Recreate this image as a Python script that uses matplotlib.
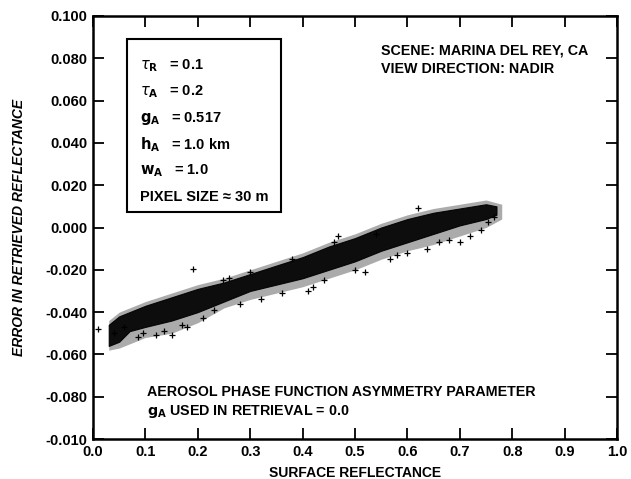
import matplotlib
matplotlib.use("Agg")
import matplotlib.pyplot as plt

plt.rcParams['font.family'] = ['Liberation Sans', 'DejaVu Sans']
plt.rcParams['mathtext.fontset'] = 'dejavusans'

# ---- data ----
xticks = [0.0, 0.1, 0.2, 0.3, 0.4, 0.5, 0.6, 0.7, 0.8, 0.9, 1.0]
xtick_labels = ["0.0", "0.1", "0.2", "0.3", "0.4", "0.5", "0.6", "0.7", "0.8", "0.9", "1.0"]
yticks = [0.10, 0.08, 0.06, 0.04, 0.02, 0.0, -0.02, -0.04, -0.06, -0.08, -0.10]
ytick_labels = ["0.100", "0.080", "0.060", "0.040", "0.020", "0.000",
                "-0.020", "-0.040", "-0.060", "-0.080", "-0.010"]

# dense core of the point cloud: surface reflectance vs. upper/lower error edge
band_x = [0.030, 0.050, 0.070, 0.100, 0.150, 0.200, 0.250, 0.300, 0.350,
          0.400, 0.450, 0.500, 0.550, 0.600, 0.650, 0.700, 0.750, 0.770]
band_top = [-0.046, -0.042, -0.040, -0.037, -0.033, -0.029, -0.026, -0.022, -0.018,
            -0.014, -0.009, -0.005, 0.000, 0.004, 0.007, 0.009, 0.011, 0.010]
band_bot = [-0.056, -0.054, -0.049, -0.047, -0.044, -0.040, -0.035, -0.030, -0.027,
            -0.024, -0.020, -0.016, -0.011, -0.007, -0.003, 0.001, 0.004, 0.006]

# sparser outer fringe of the cloud
outer_x = [0.030, 0.050, 0.100, 0.150, 0.200, 0.250, 0.300, 0.350, 0.400,
           0.450, 0.500, 0.550, 0.600, 0.650, 0.700, 0.750, 0.780]
outer_top = [-0.044, -0.040, -0.035, -0.031, -0.027, -0.024, -0.020, -0.016, -0.012,
             -0.007, -0.003, 0.002, 0.006, 0.009, 0.011, 0.013, 0.011]
outer_bot = [-0.058, -0.057, -0.052, -0.050, -0.045, -0.038, -0.034, -0.031, -0.028,
             -0.024, -0.020, -0.015, -0.011, -0.008, -0.004, 0.000, 0.004]

# scattered individual points around the cloud
fringe_x = [0.191, 0.248, 0.170, 0.150, 0.120, 0.085, 0.060, 0.040, 0.210, 0.230,
            0.280, 0.320, 0.360, 0.420, 0.468, 0.520, 0.567, 0.600, 0.637, 0.680,
            0.700, 0.720, 0.754, 0.765, 0.620, 0.540, 0.460, 0.380, 0.300, 0.260,
            0.135, 0.095, 0.180, 0.440, 0.500, 0.580, 0.660, 0.740, 0.010, 0.410]
fringe_y = [-0.0194, -0.025, -0.046, -0.051, -0.051, -0.052, -0.047, -0.050, -0.043, -0.039,
            -0.036, -0.034, -0.031, -0.028, -0.004, -0.021, -0.015, -0.012, -0.0100, -0.006,
            -0.007, -0.004, 0.0024, 0.005, 0.009, -0.003, -0.007, -0.015, -0.021, -0.024,
            -0.049, -0.050, -0.047, -0.025, -0.020, -0.013, -0.007, -0.001, -0.048, -0.030]

fig = plt.figure(figsize=(6.31, 4.79), dpi=100)
ax = fig.add_axes([0.1474, 0.0835, 0.8304, 0.8831])

ax.fill_between(outer_x, outer_bot, outer_top, color='0.45', linewidth=0, alpha=0.6)
ax.fill_between(band_x, band_bot, band_top, color='black', linewidth=0.8, alpha=0.92)
ax.plot(fringe_x, fringe_y, linestyle='none', marker='+', markersize=4,
        markeredgewidth=0.9, color='black')

ax.set_xlim(0.0, 1.0)
ax.set_ylim(-0.10, 0.10)
ax.set_xticks(xticks)
ax.set_xticklabels(xtick_labels)
ax.set_yticks(yticks)
ax.set_yticklabels(ytick_labels)
ax.tick_params(direction='in', length=8, width=1.3, top=True, right=True,
               labelsize=10.5, pad=4)
for lab in ax.get_xticklabels() + ax.get_yticklabels():
    lab.set_fontweight('bold')
for sp in ax.spines.values():
    sp.set_linewidth(1.8)

ax.set_xlabel("SURFACE REFLECTANCE", fontsize=10, fontweight='bold', labelpad=5)
ax.set_ylabel("ERROR IN RETRIEVED REFLECTANCE", fontsize=10, fontweight='bold',
              style='italic', labelpad=14)

# parameter box
box_lines = [r"$\tau_{\mathbf{R}}$   = 0.1",
             r"$\tau_{\mathbf{A}}$   = 0.2",
             r"$\mathbf{g_A}$   = 0.517",
             r"$\mathbf{h_A}$   = 1.0 km",
             r"$\mathbf{w_A}$   = 1.0",
             "PIXEL SIZE \u2248 30 m"]
box_ys = [0.0765, 0.0640, 0.0517, 0.0390, 0.0267, 0.0145]
for t, yy in zip(box_lines, box_ys):
    ax.text(0.090, yy, t, fontsize=10.5, fontweight='bold', va='center', ha='left')
rect = plt.Rectangle((0.065, 0.0075), 0.2945, 0.0815, fill=False, linewidth=1.5,
                     edgecolor='black')
ax.add_patch(rect)

ax.text(0.5490, 0.0837, "SCENE: MARINA DEL REY, CA", fontsize=10.3, fontweight='bold',
        va='center', ha='left')
ax.text(0.5490, 0.0750, "VIEW DIRECTION: NADIR", fontsize=10.3, fontweight='bold',
        va='center', ha='left')

ax.text(0.103, -0.0780, "AEROSOL PHASE FUNCTION ASYMMETRY PARAMETER", fontsize=10.3,
        fontweight='bold', va='center', ha='left')
ax.text(0.103, -0.0868, r"$\mathbf{g_A}$ USED IN RETRIEVAL = 0.0", fontsize=10.3,
        fontweight='bold', va='center', ha='left')

fig.savefig("out.png", dpi=100)
